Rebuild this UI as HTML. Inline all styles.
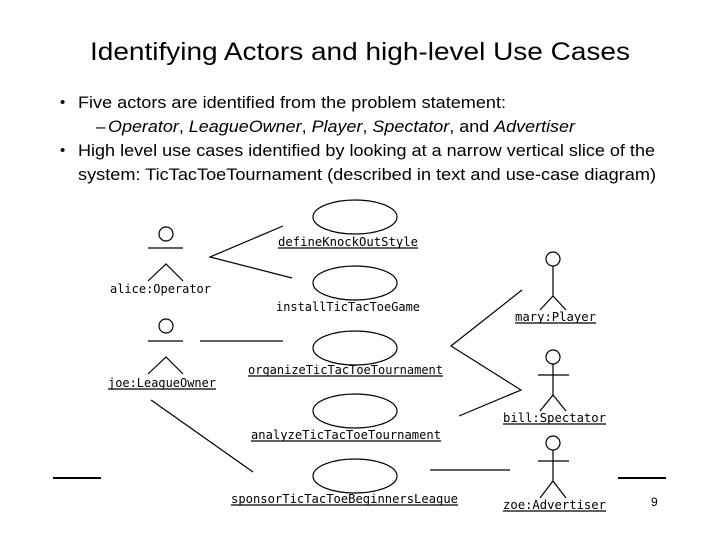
<!DOCTYPE html>
<html><head><meta charset="utf-8"><style>
html,body{margin:0;padding:0;background:#fff;}
svg{display:block;}
.t{font-family:"Liberation Sans",Arial,sans-serif;fill:#000;}
.m{font-family:"DejaVu Sans Mono","Liberation Mono",monospace;font-size:12px;fill:#000;}
</style></head><body>
<svg width="720" height="540" viewBox="0 0 720 540" xmlns="http://www.w3.org/2000/svg">
<rect width="720" height="540" fill="#fff"/>
<text class="t" x="90" y="60" font-size="25" textLength="540" lengthAdjust="spacingAndGlyphs">Identifying Actors and high-level Use Cases</text>
<text class="t" x="60" y="107" font-size="15">•</text>
<text class="t" x="78" y="108" font-size="17" textLength="428" lengthAdjust="spacingAndGlyphs">Five actors are identified from the problem statement:</text>
<text class="t" x="96" y="132" font-size="17">–</text>
<text class="t" x="108" y="132" font-size="17" textLength="467" lengthAdjust="spacingAndGlyphs"><tspan font-style="italic">Operator</tspan>, <tspan font-style="italic">LeagueOwner</tspan>, <tspan font-style="italic">Player</tspan>, <tspan font-style="italic">Spectator</tspan>, and <tspan font-style="italic">Advertiser</tspan></text>
<text class="t" x="60" y="155" font-size="15">•</text>
<text class="t" x="78" y="156" font-size="17" textLength="577" lengthAdjust="spacingAndGlyphs">High level use cases identified by looking at a narrow vertical slice of the</text>
<text class="t" x="78" y="180" font-size="17" textLength="578" lengthAdjust="spacingAndGlyphs">system: TicTacToeTournament (described in text and use-case diagram)</text>

<g fill="none" stroke="#000" stroke-width="1.2">
<ellipse cx="355" cy="217" rx="42" ry="17"/>
<ellipse cx="355" cy="283" rx="42" ry="17"/>
<ellipse cx="355" cy="348" rx="42" ry="17"/>
<ellipse cx="355" cy="411" rx="42" ry="17"/>
<ellipse cx="355" cy="476" rx="42" ry="17"/>
<!-- alice -->
<circle cx="166" cy="234" r="7"/>
<line x1="148" y1="248" x2="183" y2="248"/>
<polyline points="148,281 166,264 183,281"/>
<!-- joe -->
<circle cx="166" cy="326" r="7"/>
<line x1="148" y1="341" x2="183" y2="341"/>
<polyline points="148,374 166,357 183,374"/>
<!-- mary -->
<circle cx="553" cy="259" r="7"/>
<line x1="553" y1="266" x2="553" y2="296"/>
<polyline points="540,310 553,296 566,310"/>
<!-- bill -->
<circle cx="553" cy="357" r="7"/>
<line x1="538" y1="375" x2="569" y2="375"/>
<line x1="553" y1="364" x2="553" y2="395"/>
<polyline points="540,411 553,395 566,411"/>
<!-- zoe -->
<circle cx="553" cy="443" r="7"/>
<line x1="538" y1="461" x2="569" y2="461"/>
<line x1="553" y1="450" x2="553" y2="481"/>
<polyline points="540,498 553,481 566,498"/>
<!-- connectors -->
<polyline points="283,226 210,257 292,278"/>
<line x1="200" y1="341" x2="283" y2="341"/>
<line x1="151" y1="400" x2="253" y2="472"/>
<polyline points="522,290 451,346 521,390 459,416"/>
<line x1="430" y1="470" x2="510" y2="470"/>
<line x1="53" y1="478" x2="101" y2="478" stroke-width="2"/>
<line x1="618" y1="478" x2="666" y2="478" stroke-width="2"/>
<!-- underlines -->
<line x1="278" y1="248" x2="418" y2="248"/>
<line x1="248" y1="376" x2="443" y2="376"/>
<line x1="251" y1="441" x2="441" y2="441"/>
<line x1="231" y1="505" x2="458" y2="505"/>
<line x1="108" y1="389" x2="216" y2="389"/>
<line x1="515" y1="323" x2="596" y2="323"/>
<line x1="503" y1="424" x2="606" y2="424"/>
<line x1="503" y1="511" x2="606" y2="511"/>
</g>
<text class="m" x="278" y="246" textLength="140" lengthAdjust="spacingAndGlyphs">defineKnockOutStyle</text>
<text class="m" x="276" y="311" textLength="144" lengthAdjust="spacingAndGlyphs">installTicTacToeGame</text>
<text class="m" x="248" y="374" textLength="195" lengthAdjust="spacingAndGlyphs">organizeTicTacToeTournament</text>
<text class="m" x="251" y="439" textLength="190" lengthAdjust="spacingAndGlyphs">analyzeTicTacToeTournament</text>
<text class="m" x="231" y="503" textLength="227" lengthAdjust="spacingAndGlyphs">sponsorTicTacToeBeginnersLeague</text>
<text class="m" x="110" y="293" textLength="101" lengthAdjust="spacingAndGlyphs">alice:Operator</text>
<text class="m" x="108" y="387" textLength="108" lengthAdjust="spacingAndGlyphs">joe:LeagueOwner</text>
<text class="m" x="515" y="321" textLength="81" lengthAdjust="spacingAndGlyphs">mary:Player</text>
<text class="m" x="503" y="422" textLength="103" lengthAdjust="spacingAndGlyphs">bill:Spectator</text>
<text class="m" x="503" y="509" textLength="103" lengthAdjust="spacingAndGlyphs">zoe:Advertiser</text>
<text class="t" x="651" y="506" font-size="12">9</text>
</svg>
</body></html>
